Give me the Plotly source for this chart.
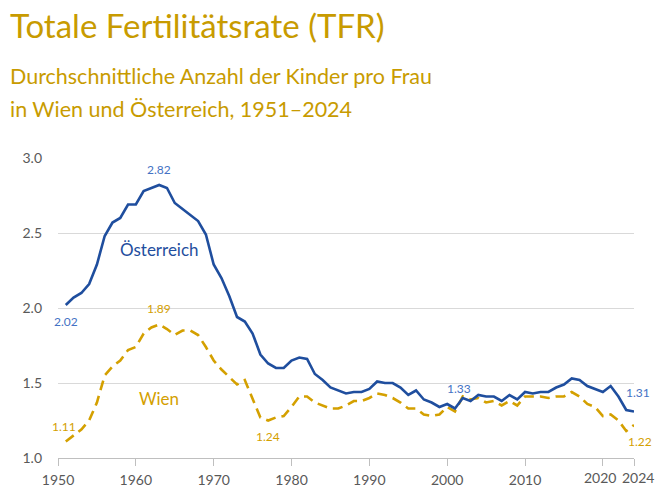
import plotly.graph_objects as go

years = list(range(1951, 2025))

oesterreich = [2.02, 2.07, 2.10, 2.16, 2.29, 2.48, 2.57, 2.60, 2.69, 2.69,
               2.78, 2.80, 2.82, 2.80, 2.70, 2.66, 2.62, 2.58, 2.49, 2.29,
               2.20, 2.08, 1.94, 1.91, 1.83, 1.69, 1.63, 1.60, 1.60, 1.65,
               1.67, 1.66, 1.56, 1.52, 1.47, 1.45, 1.43, 1.44, 1.44, 1.46,
               1.51, 1.50, 1.50, 1.47, 1.42, 1.45, 1.39, 1.37, 1.34, 1.36,
               1.33, 1.40, 1.38, 1.42, 1.41, 1.41, 1.38, 1.42, 1.39, 1.44,
               1.43, 1.44, 1.44, 1.47, 1.49, 1.53, 1.52, 1.48, 1.46, 1.44,
               1.48, 1.41, 1.32, 1.31]

wien = [1.11, 1.15, 1.19, 1.25, 1.37, 1.55, 1.61, 1.65, 1.72, 1.74,
        1.83, 1.87, 1.89, 1.86, 1.82, 1.85, 1.85, 1.82, 1.74, 1.65,
        1.59, 1.54, 1.49, 1.52, 1.40, 1.27, 1.25, 1.27, 1.28, 1.34,
        1.41, 1.41, 1.37, 1.35, 1.33, 1.33, 1.35, 1.38, 1.38, 1.40,
        1.43, 1.42, 1.40, 1.37, 1.33, 1.33, 1.29, 1.28, 1.29, 1.34,
        1.31, 1.41, 1.39, 1.40, 1.37, 1.38, 1.35, 1.38, 1.35, 1.41,
        1.41, 1.41, 1.40, 1.41, 1.41, 1.44, 1.41, 1.36, 1.34, 1.28,
        1.29, 1.25, 1.18, 1.22]

x_ticks = [1950, 1960, 1970, 1980, 1990, 2000, 2010, 2020, 2024]
y_ticks = [1.0, 1.5, 2.0, 2.5, 3.0]

BLUE = "#1F4E9E"
BLUE_LBL = "#4472C4"
GOLD = "#D4A000"
TITLE_GOLD = "#C89B00"
TICK_GREY = "#595959"
FONT = "Lato"

fig = go.Figure()
fig.add_trace(go.Scatter(x=years, y=wien, mode="lines", name="Wien",
                         line=dict(color=GOLD, width=2.6, dash="10px,6px")))
fig.add_trace(go.Scatter(x=years, y=oesterreich, mode="lines", name="Österreich",
                         line=dict(color=BLUE, width=2.6)))

def lbl(x, y, text, color, yshift=0, xshift=0, size=12):
    fig.add_annotation(x=x, y=y, xref="x", yref="y", text=text, showarrow=False,
                       font=dict(family=FONT, size=size, color=color),
                       yshift=yshift, xshift=xshift)

lbl(1963, oesterreich[1963 - 1951], "2.82", BLUE_LBL, yshift=16)
lbl(1951, oesterreich[0], "2.02", BLUE_LBL, yshift=-16, xshift=0)
lbl(2001, oesterreich[2001 - 1951], "1.33", BLUE_LBL, yshift=20, xshift=4)
lbl(2024, oesterreich[-1], "1.31", BLUE_LBL, yshift=19, xshift=4)
lbl(1963, wien[1963 - 1951], "1.89", GOLD, yshift=16)
lbl(1951, wien[0], "1.11", GOLD, yshift=15, xshift=-2)
lbl(1977, wien[1977 - 1951], "1.24", GOLD, yshift=-16)
lbl(2024, wien[-1], "1.22", GOLD, yshift=-16, xshift=6)
lbl(1963.1, 2.39, "Österreich", BLUE, size=17)
lbl(1963.0, 1.40, "Wien", GOLD, size=17)

PW, PH = 576, 300
def py(pix):  # pixel y from top -> paper y
    return (458 - pix) / PH
px0 = -58 / PW + 8 / PW

fig.add_annotation(text="Totale Fertilitätsrate (TFR)", xref="paper", yref="paper",
                   x=px0, y=py(3), xanchor="left", yanchor="top",
                   showarrow=False, font=dict(family=FONT, size=33, color=TITLE_GOLD))
fig.add_annotation(text="Durchschnittliche Anzahl der Kinder pro Frau",
                   xref="paper", yref="paper", x=px0, y=py(61),
                   xanchor="left", yanchor="top", showarrow=False,
                   font=dict(family=FONT, size=21.5, color=TITLE_GOLD))
fig.add_annotation(text="in Wien und Österreich, 1951–2024",
                   xref="paper", yref="paper", x=px0, y=py(94),
                   xanchor="left", yanchor="top", showarrow=False,
                   font=dict(family=FONT, size=21.5, color=TITLE_GOLD))

# the two crowded tick labels at the right end, nudged apart like the original
tick_text = [str(t) if t not in (2020, 2024) else "" for t in x_ticks]
for t, sh in ((2020, -3), (2024, 4)):
    fig.add_annotation(x=t, y=0, xref="x", yref="paper", text=str(t), showarrow=False,
                       yanchor="top", yshift=-9, xshift=sh,
                       font=dict(family=FONT, size=14, color=TICK_GREY))

fig.update_layout(
    width=672, height=500,
    margin=dict(l=58, r=38, t=158, b=42, autoexpand=False),
    paper_bgcolor="white", plot_bgcolor="white",
    showlegend=False,
    font=dict(family=FONT, color=TICK_GREY),
)

fig.update_xaxes(range=[1950, 2024], tickvals=x_ticks, ticktext=tick_text,
                 tickangle=0, automargin=False,
                 showgrid=False, zeroline=False, showline=True, linecolor="#BFBFBF", linewidth=1.2,
                 ticks="outside", ticklen=7, tickcolor="#BFBFBF", ticklabelstandoff=2,
                 tickfont=dict(family=FONT, size=14, color=TICK_GREY))
fig.update_yaxes(range=[1.0, 3.0], tickvals=y_ticks, ticktext=[f"{v:.1f}" for v in y_ticks],
                 automargin=False,
                 showgrid=True, gridcolor="#D9D9D9", gridwidth=1.2, zeroline=False,
                 showline=False, ticks="", ticklabelstandoff=15,
                 tickfont=dict(family=FONT, size=14, color=TICK_GREY))

fig.write_html("out.html")
